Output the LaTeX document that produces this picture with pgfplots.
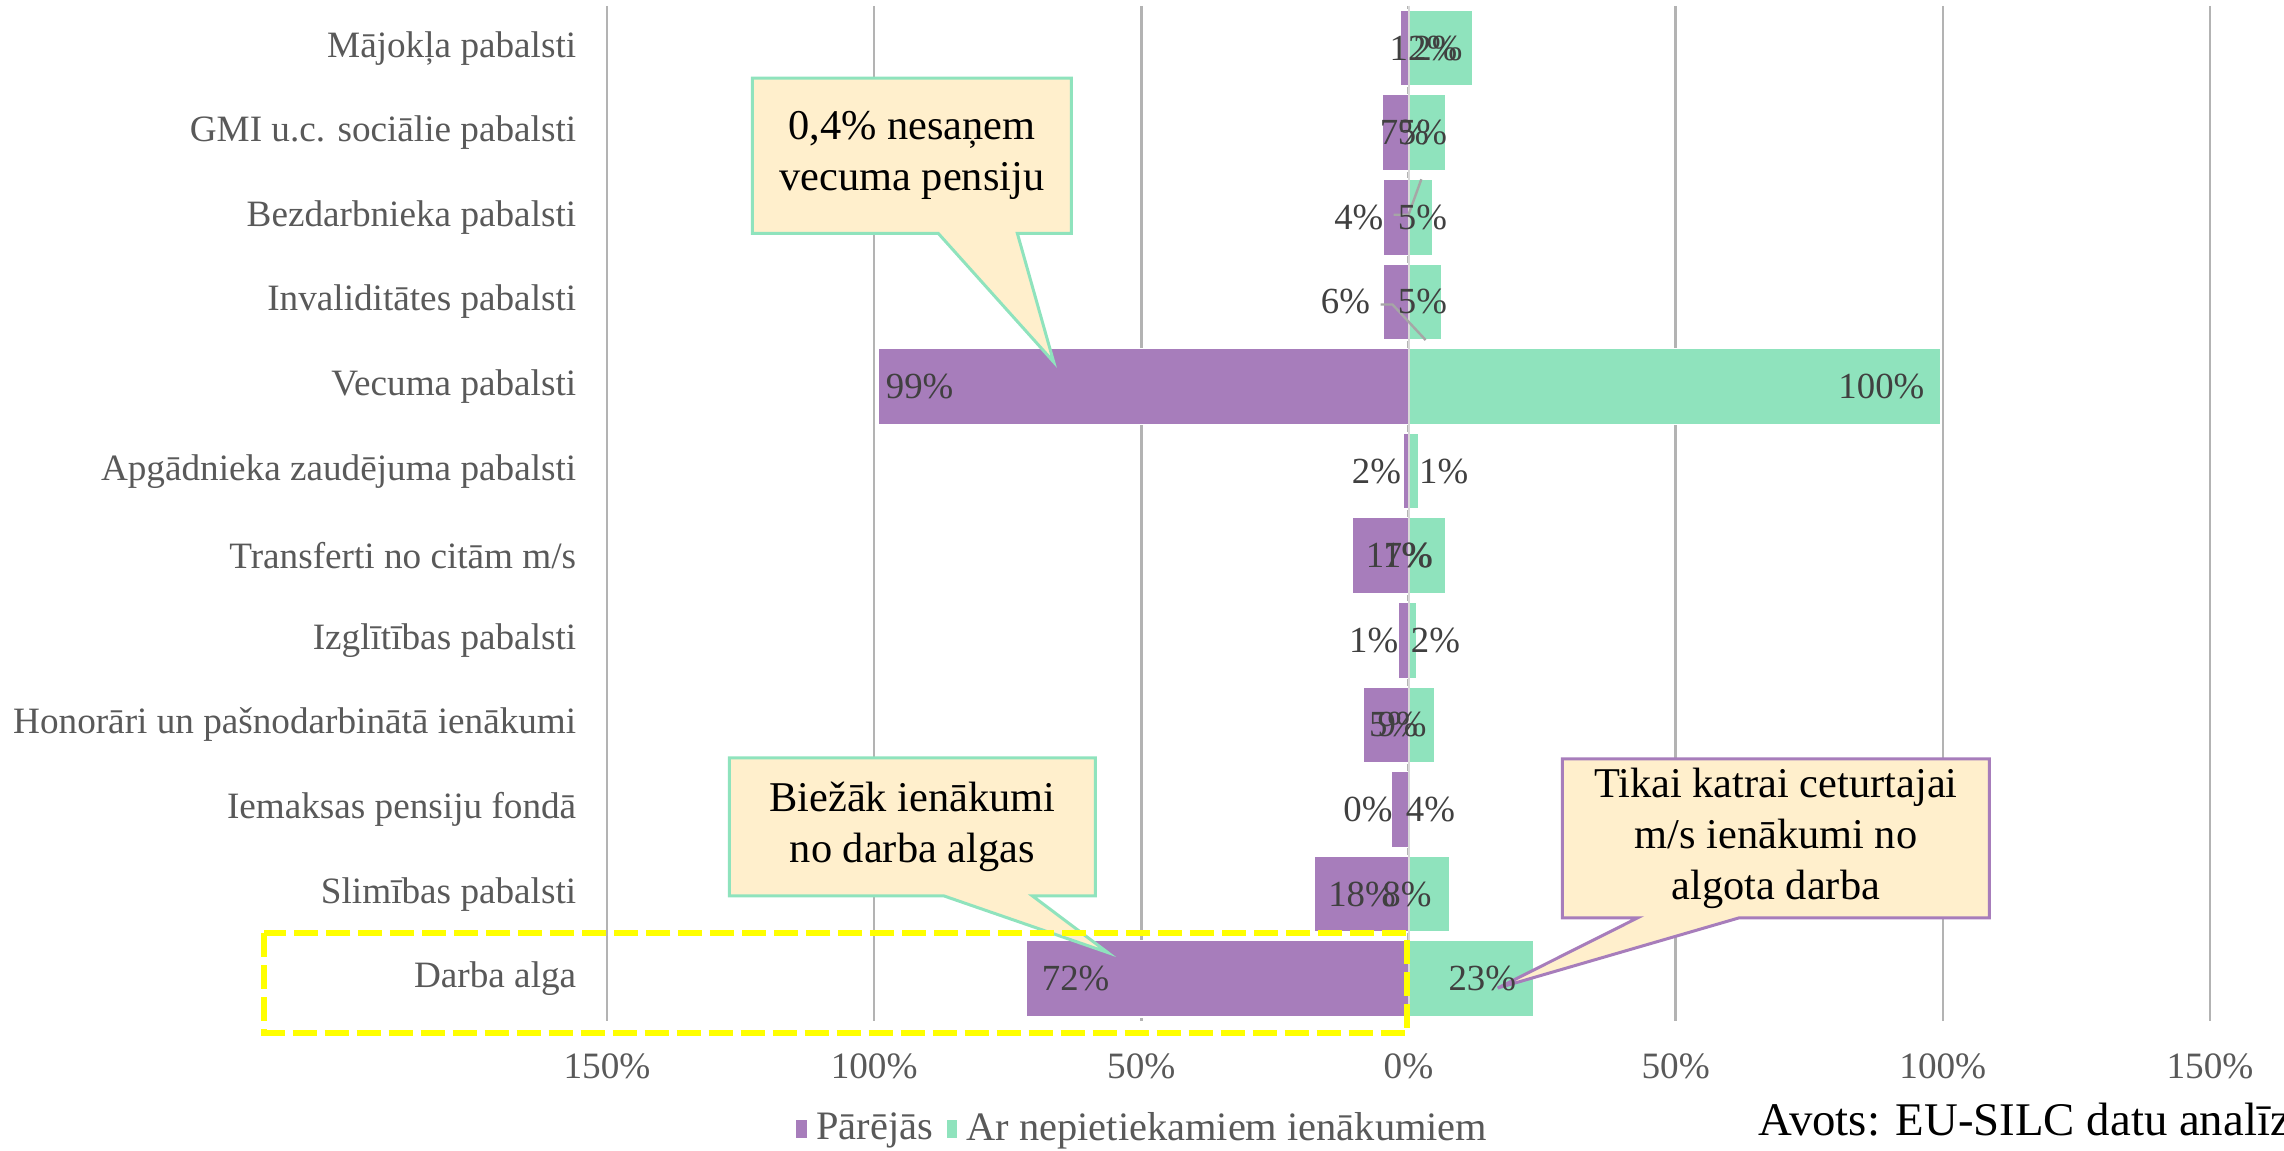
\documentclass[border=0pt]{standalone}
\usepackage{fontspec}
\setmainfont{Liberation Serif}
\usepackage{pgfplots}
\pgfplotsset{compat=1.18}
\usepackage{pgfplotstable}

\definecolor{cPur}{HTML}{A77DBB}
\definecolor{cGrn}{HTML}{8FE3BD}
\definecolor{cTick}{HTML}{595959}
\definecolor{cLab}{HTML}{404040}
\definecolor{cGrid}{HTML}{B3B3B3}
\definecolor{cAxis}{HTML}{D9D9D9}
\definecolor{cLead}{HTML}{A6A6A6}
\definecolor{cNote}{HTML}{FFEFCC}
\definecolor{cYel}{HTML}{FFFF00}

\newcommand\catfont{\fontsize{9.3}{11}\selectfont}
\newcommand\lblfont{\fontsize{9.2}{11}\selectfont}
\newcommand\legfont{\fontsize{10.1}{12}\selectfont}
\newcommand\notefont{\fontsize{10.6}{12.75}\selectfont}

% row: 0 = top category; pur = Pārējās (drawn to the left), grn = Ar nepietiekamiem ienākumiem
\pgfplotstableread{
row pur grn
0 -1.5 12.0
1 -4.9 6.9
2 -4.7 4.5
3 -4.7 6.2
4 -99.2 99.7
5 -1.0 2.0
6 -10.5 7.0
7 -2.0 1.5
8 -8.4 4.9
9 -3.2 0.5
10 -17.6 7.7
11 -71.5 23.4
}\bars

% data labels as they sit in the original (overlaps included)
\pgfplotstableread{
x y lab
2.8 0 12
5.5 0 2
-0.75 1 7
2.6 1 5
-9.3 2 4
2.6 2 5
-11.8 3 6
2.6 3 5
-91.5 4 99
88.5 4 100
-6.0 5 2
6.6 5 1
-1.8 6 11
0.0 6 7
-6.5 7 1
5.05 7 2
-2.8 8 5
-1.2 8 9
-7.6 9 0
4.1 9 4
-8.7 10 18
-0.3 10 8
-62.3 11 72
13.8 11 23
}\labels

\begin{document}
\begin{tikzpicture}
\begin{axis}[
  at={(151.75pt,32.25pt)}, anchor=south west,
  width=400.75pt, height=253.8pt,
  scale only axis,
  clip=false,
  xmin=-150, xmax=150,
  ymin=-0.5, ymax=11.5,
  y dir=reverse,
  axis line style={draw=none},
  major tick length=0pt,
  xtick={-150,-100,-50,0,50,100,150},
  xticklabels={150\%,100\%,50\%,0\%,50\%,100\%,150\%},
  ytick={0,...,11},
  yticklabels={Mājokļa pabalsti,GMI u.c. sociālie pabalsti,Bezdarbnieka pabalsti,Invaliditātes pabalsti,Vecuma pabalsti,Apgādnieka zaudējuma pabalsti,Transferti no citām m/s,Izglītības pabalsti,Honorāri un pašnodarbinātā ienākumi,Iemaksas pensiju fondā,Slimības pabalsti,Darba alga},
  xticklabel style={font=\catfont, text=cTick, inner sep=0pt, anchor=north, yshift=-8pt},
  yticklabel style={font=\catfont, text=cTick, inner sep=0pt, anchor=east, xshift=-7.5pt},
  xmajorgrids,
  grid style={color=cGrid, line width=0.6pt},
  legend columns=2,
  legend style={at={(0.3356,-0.1064)}, anchor=center, draw=none, fill=none,
    font=\legfont, text=cTick,
    /tikz/every even column/.append style={column sep=1pt}},
  legend image code/.code={\fill[#1] (0pt,-2.5pt) rectangle (3pt,2.5pt);},
]
\addplot[xbar, bar width=0.9, bar shift=0pt, fill=cPur, draw=white, line width=0.4pt]
  table[x=pur, y=row] {\bars};
\addlegendentry{Pārējās}
\addplot[xbar, bar width=0.9, bar shift=0pt, fill=cGrn, draw=white, line width=0.4pt]
  table[x=grn, y=row] {\bars};
\addlegendentry{Ar nepietiekamiem ienākumiem}

\draw[cAxis, line width=0.5pt] (axis cs:0,-0.5) -- (axis cs:0,11.5);

\addplot[draw=none, mark=none, forget plot,
  point meta=explicit symbolic,
  nodes near coords={\pgfplotspointmeta\%},
  every node near coord/.append style={anchor=center, font=\lblfont, text=cLab, inner sep=0pt}]
  table[x=x, y=y, meta=lab] {\labels};

% leader lines
\draw[cLead, line width=0.6pt] (axis cs:-2.8,1.97) -- (axis cs:0,1.97) -- (axis cs:2.4,1.55);
\draw[cLead, line width=0.6pt] (axis cs:-5.2,3.03) -- (axis cs:-3.0,3.03) -- (axis cs:3.2,3.45);

% callouts
\draw[fill=cNote, draw=cGrn, line width=0.75pt]
  (axis cs:-122.8,0.355) -- (axis cs:-63.1,0.355) -- (axis cs:-63.1,2.19)
  -- (axis cs:-73.2,2.19) -- (axis cs:-66.4,3.71) -- (axis cs:-88.0,2.19)
  -- (axis cs:-122.8,2.19) -- cycle;
\node[align=center, font=\notefont] at (axis cs:-92.95,1.27) {0,4\% nesaņem\\vecuma pensiju};

\draw[fill=cNote, draw=cGrn, line width=0.75pt]
  (axis cs:-127.1,8.39) -- (axis cs:-58.6,8.39) -- (axis cs:-58.6,10.02)
  -- (axis cs:-70.4,10.02) -- (axis cs:-56.3,10.69) -- (axis cs:-87.0,10.02)
  -- (axis cs:-127.1,10.02) -- cycle;
\node[align=center, font=\notefont] at (axis cs:-92.85,9.2) {Biežāk ienākumi\\no darba algas};

\draw[fill=cNote, draw=cPur, line width=0.75pt]
  (axis cs:28.8,8.40) -- (axis cs:108.7,8.40) -- (axis cs:108.7,10.28)
  -- (axis cs:61.9,10.28) -- (axis cs:16.7,11.11) -- (axis cs:42.9,10.28)
  -- (axis cs:28.8,10.28) -- cycle;
\node[align=center, font=\notefont] at (axis cs:68.75,9.34) {Tikai katrai ceturtajai\\m/s ienākumi no\\algota darba};

\draw[cYel, line width=1.5pt, dash pattern=on 6pt off 2pt]
  (axis cs:-214.1,10.46) rectangle (axis cs:-0.2,11.64);
\end{axis}

\node[anchor=base west, inner sep=0pt, font=\fontsize{11.7}{14}\selectfont] at (439.5pt,3.75pt) {Avots: EU-SILC datu analīze};

\pgfresetboundingbox
\useasboundingbox (0,0) rectangle (571pt,287.5pt);
\end{tikzpicture}
\end{document}
